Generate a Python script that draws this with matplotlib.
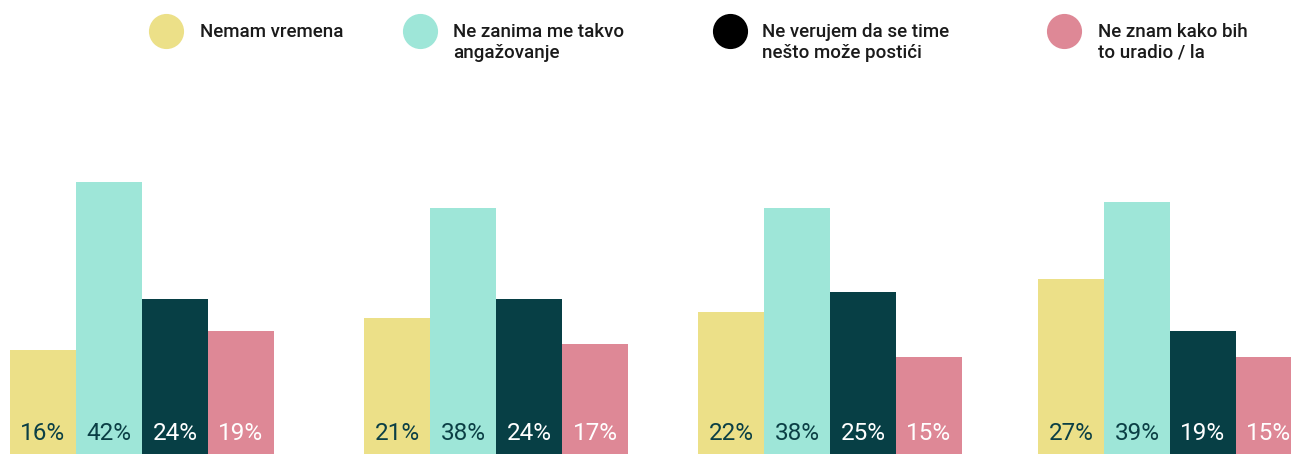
import matplotlib.pyplot as plt
import numpy as np

plt.rcParams['font.family'] = ['Roboto', 'DejaVu Sans']

categories = ['Nemam vremena', 'Ne zanima me takvo\nangažovanje',
              'Ne verujem da se time\nnešto može postići', 'Ne znam kako bih\nto uradio / la']
values = np.array([
    [16, 42, 24, 19],
    [21, 38, 24, 17],
    [22, 38, 25, 15],
    [27, 39, 19, 15],
])
bar_colors = ['#ECE088', '#9EE6D8', '#073F45', '#DE8896']
legend_colors = ['#ECE088', '#9EE6D8', '#000000', '#DE8896']
label_colors = ['#0B3F45', '#0B3F45', '#FFFFFF', '#FFFFFF']

# layout (pixels)
W, H = 1291, 454
group_left = [10, 364, 698, 1038]
bar_w = 66
px_per_pct = 6.47

fig = plt.figure(figsize=(W / 100, H / 100), dpi=100)
ax = fig.add_axes([0, 0, 1, 1])
ax.set_xlim(0, W)
ax.set_ylim(0, H / px_per_pct)
ax.axis('off')

for g, left in enumerate(group_left):
    for i in range(4):
        x = left + i * bar_w
        ax.bar(x, values[g, i], width=bar_w, align='edge', color=bar_colors[i], linewidth=0)
        ax.text(x + bar_w / 2, 21 / px_per_pct, f'{values[g, i]}%', ha='center', va='center',
                fontsize=17.5, color=label_colors[i])

# legend
circle_x = [166, 420, 730, 1064]
text_x = [200, 453, 762, 1098]
for i, cat in enumerate(categories):
    ax.scatter(circle_x[i], (H - 31) / px_per_pct, s=640, color=legend_colors[i],
               linewidth=0, clip_on=False)
    ax.text(text_x[i], (H - 23) / px_per_pct, cat, ha='left', va='top', fontsize=13.5,
            fontweight='medium', color='#1A1A1A', linespacing=1.2)

fig.savefig('out.png', dpi=100)
